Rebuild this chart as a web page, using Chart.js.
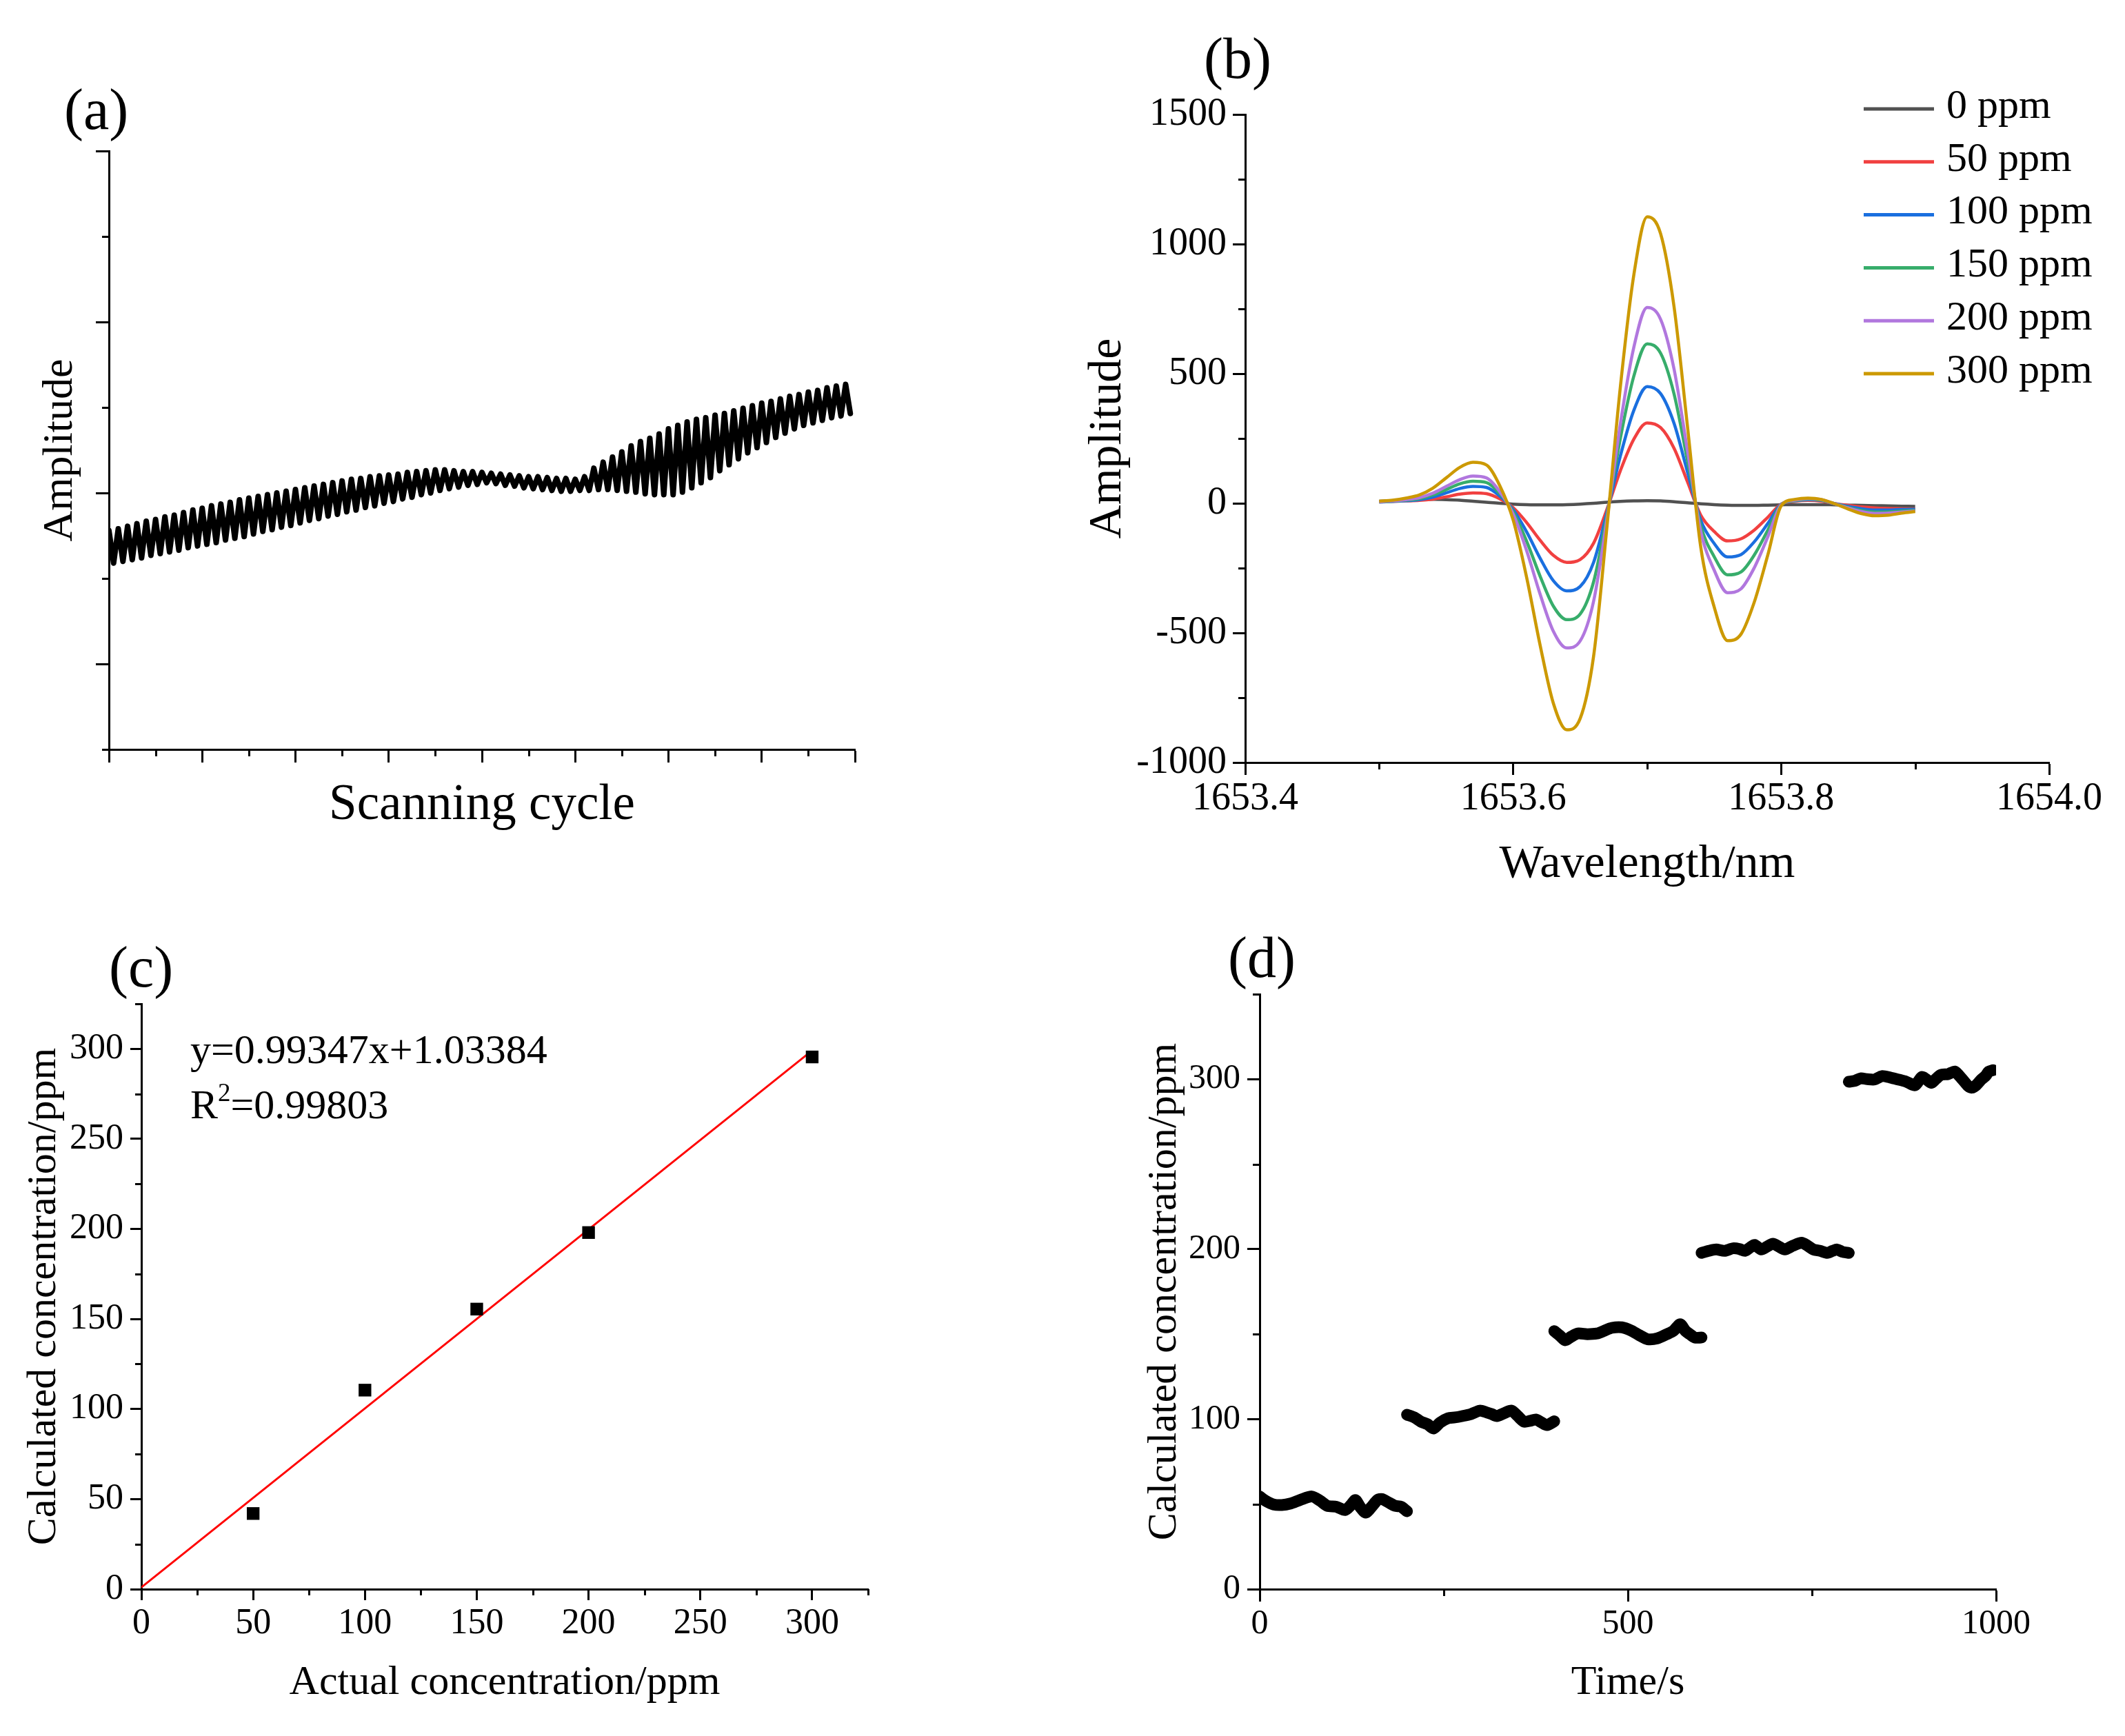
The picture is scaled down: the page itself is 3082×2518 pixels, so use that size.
<!DOCTYPE html>
<html>
<head>
<meta charset="utf-8">
<script src="https://cdn.jsdelivr.net/npm/chart.js@4.4.1/dist/chart.umd.min.js"></script>
<style>
html,body{margin:0;padding:0;background:#fff;}
#wrap{position:relative;width:3082px;height:2518px;background:#fff;overflow:hidden;}
canvas{position:absolute;}
</style>
</head>
<body>
<div id="wrap">
<canvas id="ca" width="1541" height="1300" style="left:0px;top:0px;width:1541px;height:1300px"></canvas>
<canvas id="cb" width="1541" height="1300" style="left:1541px;top:0px;width:1541px;height:1300px"></canvas>
<canvas id="cc" width="1541" height="1218" style="left:0px;top:1300px;width:1541px;height:1218px"></canvas>
<canvas id="cd" width="1541" height="1218" style="left:1541px;top:1300px;width:1541px;height:1218px"></canvas>
</div>
<script>
// ---------------- DATA ----------------
// (a) scanning signal: alternating peak / trough values for each scanning cycle (relative units)
const amplitudeA = [
2.56,2.18, 2.58,2.20, 2.61,2.22, 2.64,2.24, 2.67,2.27, 2.69,2.29, 2.72,2.31, 2.74,2.33, 2.77,2.36, 2.80,2.38,
2.82,2.40, 2.85,2.42, 2.87,2.45, 2.89,2.47, 2.92,2.49, 2.94,2.52, 2.96,2.55, 2.98,2.57, 3.00,2.60, 3.02,2.62,
3.04,2.65, 3.06,2.68, 3.08,2.70, 3.10,2.73, 3.12,2.75, 3.14,2.78, 3.16,2.80, 3.17,2.83, 3.19,2.85, 3.20,2.88,
3.21,2.90, 3.22,2.93, 3.24,2.95, 3.25,2.98, 3.26,3.00, 3.27,3.03, 3.27,3.05, 3.26,3.07, 3.25,3.09, 3.25,3.10,
3.24,3.12, 3.23,3.11, 3.22,3.09, 3.21,3.08, 3.20,3.06, 3.19,3.05, 3.19,3.04, 3.18,3.03, 3.17,3.02, 3.17,3.02,
3.16,3.03, 3.19,3.03, 3.29,3.04, 3.36,3.04, 3.42,3.03, 3.48,3.02, 3.55,3.01, 3.60,2.99, 3.64,2.98, 3.69,2.98,
3.75,2.98, 3.79,3.01, 3.83,3.06, 3.86,3.12, 3.88,3.18, 3.91,3.26, 3.93,3.33, 3.96,3.40, 3.99,3.47, 4.02,3.53,
4.05,3.59, 4.07,3.65, 4.10,3.70, 4.13,3.75, 4.15,3.79, 4.18,3.82, 4.20,3.85, 4.23,3.88, 4.25,3.90, 4.27,3.93
];
const ticksAx = [0,20,40,60,80,100,120,140,160];
const minorAx = [10,30,50,70,90,110,130,150];
const ticksAy = [1,3,5,7];
const minorAy = [0,2,4,6];

// (b) second-harmonic spectra
const wavelengthB = [1653.50,1653.51,1653.52,1653.53,1653.54,1653.55,1653.56,1653.57,1653.58,1653.59,
1653.60,1653.61,1653.62,1653.63,1653.64,1653.65,1653.66,1653.67,1653.68,1653.69,
1653.70,1653.71,1653.72,1653.73,1653.74,1653.75,1653.76,1653.77,1653.78,1653.79,
1653.80,1653.81,1653.82,1653.83,1653.84,1653.85,1653.86,1653.87,1653.88,1653.89,1653.90];
const labelsB = ['0 ppm','50 ppm','100 ppm','150 ppm','200 ppm','300 ppm'];
const ppm0 = [8,10,12,14,15,14,12,8,4,0,-3,-5,-6,-6,-5,-3,0,4,7,9,10,9,6,2,-2,-5,-7,-8,-8,-7,-6,-5,-5,-5,-6,-7,-8,-9,-10,-11,-12];
const ppm50 = [5,7,9,11,16,25,35,40,37,17,-17,-74,-142,-201,-228,-217,-154,-23,126,247,310,292,213,84,-46,-109,-145,-137,-103,-54,-3,7,11,8,-1,-8,-14,-18,-20,-21,-22];
const ppm100 = [5,7,10,14,24,40,57,65,61,28,-25,-110,-211,-299,-338,-321,-228,-35,183,358,450,423,309,122,-66,-155,-207,-198,-148,-78,-4,9,14,11,-1,-12,-21,-26,-26,-24,-23];
const ppm150 = [5,8,12,18,32,53,75,85,80,37,-33,-146,-280,-397,-449,-427,-303,-46,251,490,615,579,423,167,-87,-206,-276,-265,-199,-104,-5,10,16,12,-2,-16,-28,-34,-33,-30,-27];
const ppm200 = [6,9,14,22,39,65,91,105,98,45,-42,-182,-349,-494,-558,-531,-378,-60,307,601,755,710,519,205,-109,-258,-345,-330,-248,-130,-6,12,18,14,-2,-18,-32,-39,-38,-34,-30];
const ppm300 = [8,12,20,32,58,98,138,158,148,68,-65,-285,-545,-772,-874,-830,-590,-90,450,880,1105,1040,760,300,-170,-400,-530,-505,-380,-200,-10,15,20,15,-2,-22,-40,-48,-46,-38,-32];
const ticksBx = [1653.4,1653.6,1653.8,1654.0];
const minorBx = [1653.5,1653.7,1653.9];
const ticksBy = [-1000,-500,0,500,1000,1500];
const minorBy = [-750,-250,250,750,1250];

// (c) calibration
const actualC = [50,100,150,200,300];
const calculatedC = [42,110.5,155.5,198,295.5];
const fitXC = [0,298];
const fitYC = [1.03,297.1];
const ticksC = [0,50,100,150,200,250,300];
const minorC = [25,75,125,175,225,275,325];

// (d) continuous measurement
const timeD1 = [0,8,19,30,42,55,71,82,92,104,116,124,130,137,144,152,160,166,175,184,192,200];
const concD1 = [54.5,52,49.8,49.5,50.4,52.5,54.5,52,49,48.5,46.5,49.5,52.4,48,45,48.5,52.5,53,51,49,48.5,45.8];
const timeD2 = [200,210,219,228,236,245,256,265,275,287,299,308,315,322,332,342,350,359,367,375,383,390,400];
const concD2 = [102.6,101,98.5,97,94.5,98,100.6,101,101.8,103,105,104,103,101.8,103.5,105,102,98.5,99,99.8,98,96.5,98.7];
const timeD3 = [400,408,415,423,432,445,458,468,478,492,505,515,527,540,553,562,571,578,584,591,600];
const concD3 = [151.8,149,146.4,148.5,150.4,150,150.4,152,153.7,154,152,149.5,147,147.5,150,152,155.8,152,150,148,148];
const timeD4 = [600,610,620,631,643,652,659,666,672,681,689,697,705,713,724,736,744,752,761,771,778,784,791,800];
const concD4 = [197.8,199,199.8,199,200.5,200,199,201,202.5,199.8,201.5,203.2,201.5,199.8,202,203.8,202,199.8,199,197.8,199,199.8,198.5,197.8];
const timeD5 = [800,808,816,825,835,845,856,867,878,890,899,905,912,918,925,935,944,950,957,962,967,973,980,986,990,996];
const concD5 = [298.5,299,300.5,300,299.8,301.8,301,299.8,298.5,296.4,301.3,300,297.8,300,302.5,303,304.5,302,298.5,296,295,296.5,299.8,302,304.5,305.3];
const ticksDx = [0,500,1000];
const minorDx = [250,750];
const ticksDy = [0,100,200,300];
const minorDy = [50,150,250,350];

// ---------------- HELPERS ----------------
const FONT = "'Liberation Serif', 'Times New Roman', serif";
const pts = (xs, ys) => ys.map((y, i) => ({x: xs[i], y: y}));

function axis(o) {
  return {
    type: 'linear', position: o.pos, min: o.min, max: o.max,
    afterBuildTicks: s => { s.ticks = o.ticks.map(v => ({value: v})); },
    afterFit: s => { if (o.pos === 'left') s.width = o.size; else s.height = o.size; },
    grid: {drawOnChartArea: false, drawTicks: true, tickLength: o.tickLen, tickWidth: 3, tickColor: '#000'},
    border: {display: true, width: 3, color: '#000'},
    ticks: {display: true, padding: o.pad, color: '#000', autoSkip: false, maxRotation: 0,
            font: {family: FONT, size: o.tickSize || 50}, callback: o.fmt},
    title: {display: true, text: o.title, color: '#000', padding: 0,
            font: {family: FONT, size: o.titleSize}}
  };
}

const minorTickPlugin = {
  id: 'minorTicks',
  afterDraw(chart, args, opts) {
    const ctx = chart.ctx;
    ctx.save();
    ctx.strokeStyle = '#000';
    ctx.lineWidth = 3;
    (opts.axes || []).forEach(a => {
      const s = chart.scales[a.id];
      ctx.beginPath();
      a.values.forEach(v => {
        const p = Math.round(s.getPixelForValue(v)) + 0.5;
        if (s.isHorizontal()) { ctx.moveTo(p, s.top); ctx.lineTo(p, s.top + a.length); }
        else { ctx.moveTo(s.right, p); ctx.lineTo(s.right - a.length, p); }
      });
      ctx.stroke();
    });
    ctx.restore();
  }
};

const textPlugin = {
  id: 'texts',
  afterDraw(chart, args, opts) {
    const ctx = chart.ctx;
    ctx.save();
    ctx.fillStyle = '#000';
    ctx.textAlign = 'left';
    ctx.textBaseline = 'alphabetic';
    (opts.items || []).forEach(it => {
      let x = it.x;
      it.runs.forEach(r => {
        ctx.font = r.size + 'px ' + FONT;
        ctx.fillText(r.text, x, it.y + (r.dy || 0));
        x += ctx.measureText(r.text).width;
      });
    });
    ctx.restore();
  }
};

const legendPlugin = {
  id: 'sideLegend',
  afterDraw(chart, args, o) {
    if (!o || !o.show) return;
    const ctx = chart.ctx;
    ctx.save();
    ctx.font = o.size + 'px ' + FONT;
    ctx.textBaseline = 'middle';
    ctx.textAlign = 'left';
    chart.data.datasets.forEach((ds, i) => {
      const y = o.y0 + i * o.dy;
      ctx.strokeStyle = ds.borderColor;
      ctx.lineWidth = 5;
      ctx.beginPath(); ctx.moveTo(o.x0, y); ctx.lineTo(o.x1, y); ctx.stroke();
      ctx.fillStyle = '#000';
      ctx.fillText(ds.label, o.tx, y + o.textDy);
    });
    ctx.restore();
  }
};

function baseOptions(pad, scales, plug) {
  return {
    responsive: false, animation: false, devicePixelRatio: 1, events: [],
    layout: {padding: pad},
    scales: scales,
    plugins: Object.assign({legend: {display: false}, tooltip: {enabled: false}, title: {display: false}}, plug)
  };
}

// ---------------- (a) ----------------
new Chart(document.getElementById('ca'), {
  type: 'line',
  data: {datasets: [{data: amplitudeA.map((v, i) => ({x: i, y: v})), borderColor: '#000', borderWidth: 8,
    borderJoinStyle: 'round', borderCapStyle: 'round', pointRadius: 0, tension: 0, fill: false}]},
  options: baseOptions({left: 51, right: 301, top: 219, bottom: 87}, {
    x: axis({pos: 'bottom', min: 0, max: 160, ticks: ticksAx, size: 126, tickLen: 19, pad: 0,
             fmt: () => '', title: 'Scanning cycle', titleSize: 73}),
    y: axis({pos: 'left', min: 0, max: 7, ticks: ticksAy, size: 107, tickLen: 19, pad: 0,
             fmt: () => '', title: 'Amplitude', titleSize: 62})
  }, {
    minorTicks: {axes: [{id: 'x', values: minorAx, length: 10}, {id: 'y', values: minorAy, length: 10}]},
    texts: {items: [{x: 93, y: 187, runs: [{text: '(a)', size: 84}]}]}
  }),
  plugins: [minorTickPlugin, textPlugin]
});

// ---------------- (b) ----------------
const colorsB = ['#515151', '#F14040', '#1A6FDF', '#37AD6B', '#B177DE', '#CC9900'];
const seriesB = [ppm0, ppm50, ppm100, ppm150, ppm200, ppm300];
new Chart(document.getElementById('cb'), {
  type: 'line',
  data: {datasets: seriesB.map((s, i) => ({
    label: labelsB[i], data: pts(wavelengthB, s), borderColor: colorsB[i], borderWidth: 4.5,
    pointRadius: 0, cubicInterpolationMode: 'monotone', fill: false, order: 5 - i
  }))},
  options: baseOptions({left: 25, right: 110, top: 166, bottom: 5}, {
    x: axis({pos: 'bottom', min: 1653.4, max: 1654.0, ticks: ticksBx, size: 189, tickLen: 18, pad: 2,
             tickSize: 56, fmt: v => Number(v).toFixed(1), title: 'Wavelength/nm', titleSize: 68}),
    y: axis({pos: 'left', min: -1000, max: 1500, ticks: ticksBy, size: 240, tickLen: 18, pad: 9,
             tickSize: 56, fmt: v => String(v), title: 'Amplitude', titleSize: 68})
  }, {
    minorTicks: {axes: [{id: 'x', values: minorBx, length: 10}, {id: 'y', values: minorBy, length: 10}]},
    texts: {items: [{x: 205, y: 113, runs: [{text: '(b)', size: 84}]}]},
    sideLegend: {show: true, x0: 1162, x1: 1264, tx: 1282, y0: 158, dy: 76.8, textDy: -3, size: 60}
  }),
  plugins: [minorTickPlugin, textPlugin, legendPlugin]
});

// ---------------- (c) ----------------
new Chart(document.getElementById('cc'), {
  type: 'scatter',
  data: {datasets: [
    {data: pts(actualC, calculatedC), backgroundColor: '#000', borderColor: '#000', borderWidth: 0,
     pointStyle: 'rect', pointRadius: 13, showLine: false},
    {data: pts(fitXC, fitYC), borderColor: '#FF0000', borderWidth: 3, pointRadius: 0, showLine: true, fill: false}
  ]},
  options: baseOptions({left: 28, right: 282, top: 156, bottom: 41}, {
    x: axis({pos: 'bottom', min: 0, max: 325, ticks: ticksC, size: 172, tickLen: 16, pad: 3,
             tickSize: 52, fmt: v => String(v), title: 'Actual concentration/ppm', titleSize: 60}),
    y: axis({pos: 'left', min: 0, max: 325, ticks: ticksC, size: 177, tickLen: 16, pad: 10,
             tickSize: 52, fmt: v => String(v), title: 'Calculated concentration/ppm', titleSize: 60})
  }, {
    minorTicks: {axes: [{id: 'x', values: minorC, length: 9}, {id: 'y', values: minorC, length: 9}]},
    texts: {items: [
      {x: 158, y: 131, runs: [{text: '(c)', size: 84}]},
      {x: 276, y: 242, runs: [{text: 'y=0.99347x+1.03384', size: 60}]},
      {x: 276, y: 322, runs: [{text: 'R', size: 60}, {text: '2', size: 37, dy: -25}, {text: '=0.99803', size: 60}]}
    ]}
  }),
  plugins: [minorTickPlugin, textPlugin]
});

// ---------------- (d) ----------------
const segD = [[timeD1, concD1], [timeD2, concD2], [timeD3, concD3], [timeD4, concD4], [timeD5, concD5]];
new Chart(document.getElementById('cd'), {
  type: 'line',
  data: {datasets: segD.map(s => ({
    data: pts(s[0], s[1]), borderColor: '#000', backgroundColor: '#000', borderWidth: 17,
    borderCapStyle: 'round', borderJoinStyle: 'round', pointRadius: 0, tension: 0.25, fill: false
  }))},
  options: baseOptions({left: 112, right: 187, top: 142, bottom: 41}, {
    x: axis({pos: 'bottom', min: 0, max: 1000, ticks: ticksDx, size: 172, tickLen: 18, pad: 3,
             tickSize: 50, fmt: v => String(v), title: 'Time/s', titleSize: 60}),
    y: axis({pos: 'left', min: 0, max: 350, ticks: ticksDy, size: 174, tickLen: 18, pad: 10,
             tickSize: 50, fmt: v => String(v), title: 'Calculated concentration/ppm', titleSize: 60})
  }, {
    minorTicks: {axes: [{id: 'x', values: minorDx, length: 10}, {id: 'y', values: minorDy, length: 10}]},
    texts: {items: [{x: 240, y: 117, runs: [{text: '(d)', size: 84}]}]}
  }),
  plugins: [minorTickPlugin, textPlugin]
});
</script>
</body>
</html>
